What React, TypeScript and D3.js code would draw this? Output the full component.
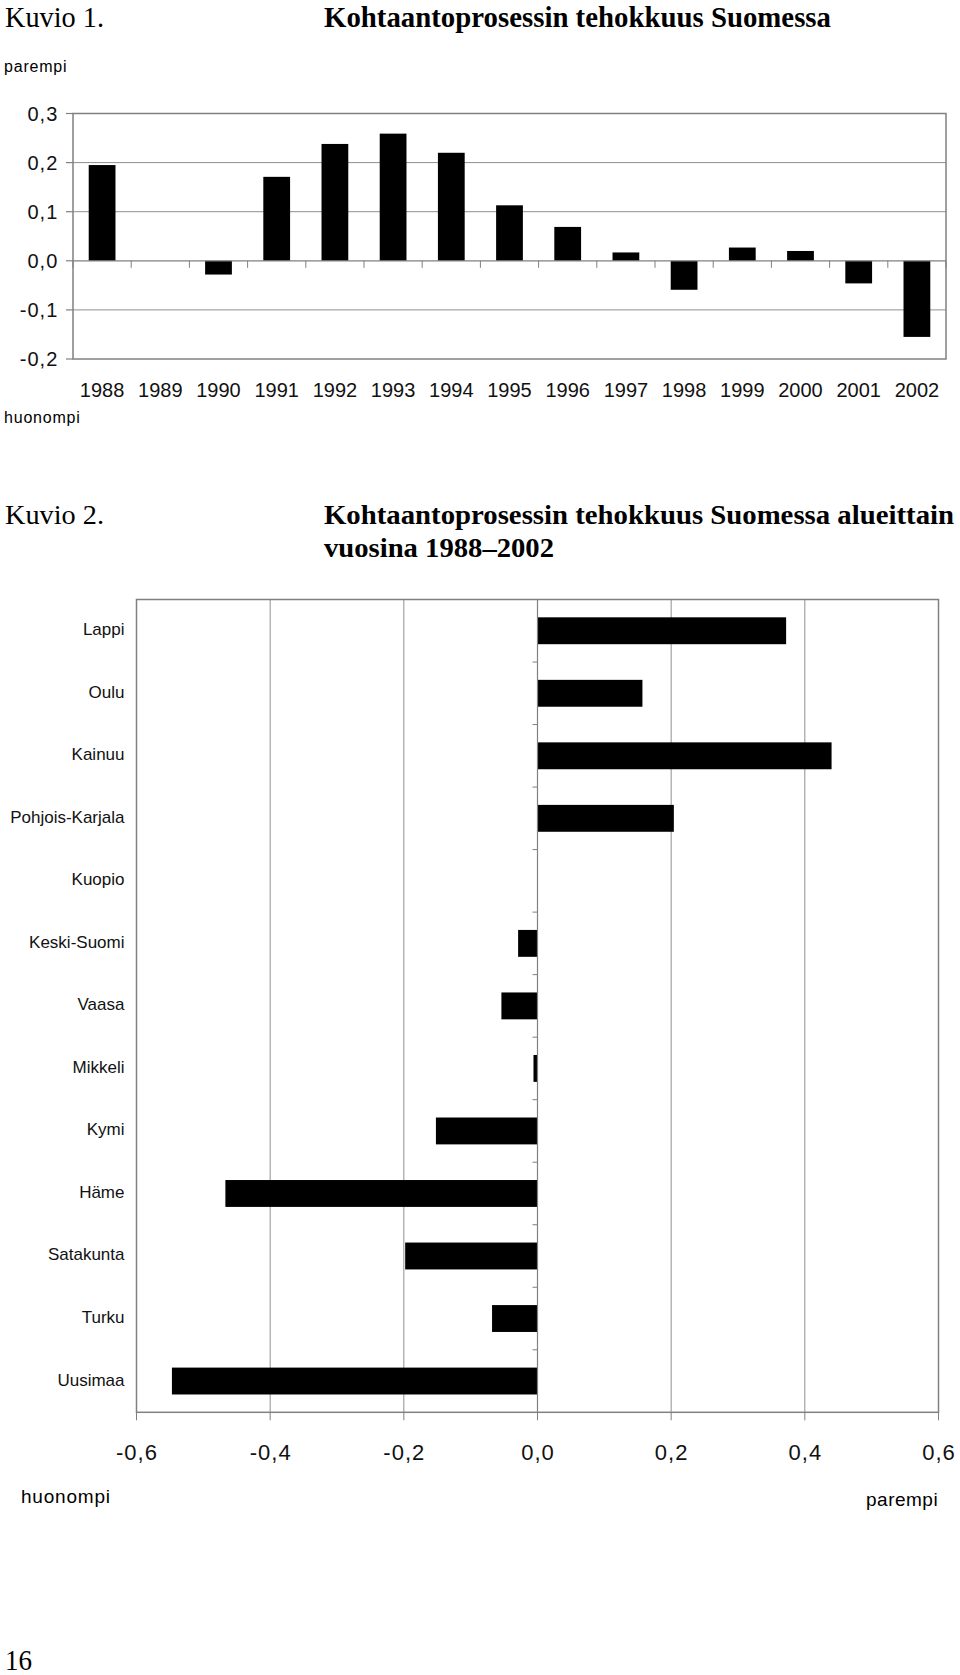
import React from "react";
import * as d3 from "d3";

// ---- Chart 1 data ----
const years = ["1988","1989","1990","1991","1992","1993","1994","1995","1996","1997","1998","1999","2000","2001","2002"];
const yearValues = [0.195, 0, -0.028, 0.171, 0.238, 0.259, 0.220, 0.113, 0.069, 0.017, -0.059, 0.027, 0.020, -0.046, -0.155];
const yTicks1 = [0.3, 0.2, 0.1, 0.0, -0.1, -0.2];

// ---- Chart 2 data ----
const regions = ["Lappi","Oulu","Kainuu","Pohjois-Karjala","Kuopio","Keski-Suomi","Vaasa","Mikkeli","Kymi","Häme","Satakunta","Turku","Uusimaa"];
const regionValues = [0.372, 0.157, 0.440, 0.204, 0, -0.029, -0.054, -0.006, -0.152, -0.467, -0.198, -0.068, -0.547];
const xTicks2 = [-0.6, -0.4, -0.2, 0.0, 0.2, 0.4, 0.6];

const fmt = (v: number) => {
  const s = Math.abs(v).toFixed(1).replace(".", ",");
  return (v < -1e-9 ? "-" : "") + s;
};

const SANS = "'Liberation Sans', Arial, sans-serif";
const SERIF = "'Liberation Serif', 'Times New Roman', serif";
const GRID = "#8f8f8f";
const AXIS = "#808080";

export default function App() {
  // Chart 1 geometry
  const c1 = { left: 73, right: 946, top: 113.5, bottom: 359 };
  const y1 = d3.scaleLinear().domain([-0.2, 0.3]).range([c1.bottom, c1.top]);
  const x1 = d3.scaleBand<string>().domain(years).range([c1.left, c1.right]).paddingInner(0.54).paddingOuter(0.27);
  const step1 = x1.step();
  const y0 = y1(0);

  // Chart 2 geometry
  const c2 = { left: 136.5, right: 938.5, top: 599.5, bottom: 1412.3 };
  const x2 = d3.scaleLinear().domain([-0.6, 0.6]).range([c2.left, c2.right]);
  const yb2 = d3.scaleBand<string>().domain(regions).range([c2.top, c2.bottom]).paddingInner(0.57).paddingOuter(0.285);
  const step2 = yb2.step();
  const x0 = x2(0);

  const boundaries1 = d3.range(years.length + 1).map((i) => c1.left + i * step1);
  const boundaries2 = d3.range(1, regions.length).map((i) => c2.top + i * step2);

  return (
    <svg width={960} height={1675} style={{ position: "absolute", left: 0, top: 0, background: "#fff" }}>
      <rect x={0} y={0} width={960} height={1675} fill="#fff" />
      {/* Titles */}
      <text x={5} y={26.5} fontFamily={SERIF} fontSize={29} textLength={99} lengthAdjust="spacingAndGlyphs">Kuvio 1.</text>
      <text x={324} y={26.5} fontFamily={SERIF} fontSize={29} fontWeight="bold" textLength={507} lengthAdjust="spacingAndGlyphs">Kohtaantoprosessin tehokkuus Suomessa</text>

      {/* Chart 1 */}
      <text x={4} y={72} fontFamily={SANS} fontSize={16} letterSpacing={0.8}>parempi</text>
      <text x={4} y={423} fontFamily={SANS} fontSize={16} letterSpacing={0.8}>huonompi</text>

      {yTicks1.map((t) => (
        <g key={"g1" + t}>
          {t !== 0.3 && t !== -0.2 && t !== 0 && (
            <line x1={c1.left} x2={c1.right} y1={y1(t)} y2={y1(t)} stroke={GRID} strokeWidth={1} />
          )}
          <line x1={c1.left - 7} x2={c1.left} y1={y1(t)} y2={y1(t)} stroke={AXIS} strokeWidth={1.2} />
          <text x={58.3} y={y1(t) + 7} textAnchor="end" fontFamily={SANS} fontSize={20} letterSpacing={1} fill="#111">{fmt(t)}</text>
        </g>
      ))}
      {yearValues.map((v, i) => (
        <rect key={"b1" + i} x={x1(years[i])!} width={x1.bandwidth()}
          y={Math.min(y1(v), y0)} height={Math.abs(y1(v) - y0)} fill="#000" />
      ))}
      {/* zero line with category ticks */}
      <line x1={c1.left} x2={c1.right} y1={y0} y2={y0} stroke={AXIS} strokeWidth={1.2} />
      {boundaries1.map((bx, i) => (
        <line key={"t1" + i} x1={bx} x2={bx} y1={y0} y2={y0 + 7} stroke={AXIS} strokeWidth={1} />
      ))}
      <rect x={c1.left} y={c1.top} width={c1.right - c1.left} height={c1.bottom - c1.top} fill="none" stroke={AXIS} strokeWidth={1.5} />
      {years.map((yr) => (
        <text key={"yl" + yr} x={x1(yr)! + x1.bandwidth() / 2} y={396.5} textAnchor="middle" fontFamily={SANS} fontSize={20} fill="#111">{yr}</text>
      ))}

      {/* Chart 2 titles */}
      <text x={5} y={524} fontFamily={SERIF} fontSize={28} textLength={99} lengthAdjust="spacingAndGlyphs">Kuvio 2.</text>
      <text x={324} y={524} fontFamily={SERIF} fontSize={28} fontWeight="bold" textLength={630} lengthAdjust="spacingAndGlyphs">Kohtaantoprosessin tehokkuus Suomessa alueittain</text>
      <text x={324} y={557} fontFamily={SERIF} fontSize={28} fontWeight="bold" textLength={230} lengthAdjust="spacingAndGlyphs">vuosina 1988–2002</text>

      {/* Chart 2 grid */}
      {xTicks2.map((t) => (
        <g key={"g2" + t}>
          <line x1={x2(t)} x2={x2(t)} y1={c2.top} y2={c2.bottom} stroke={GRID} strokeWidth={1} />
          <line x1={x2(t)} x2={x2(t)} y1={c2.bottom} y2={c2.bottom + 8} stroke={AXIS} strokeWidth={1} />
          <text x={x2(t) + 0.5} y={1460} textAnchor="middle" fontFamily={SANS} fontSize={22} letterSpacing={1} fill="#111">{fmt(t)}</text>
        </g>
      ))}
      {regionValues.map((v, i) => (
        <rect key={"b2" + i} y={yb2(regions[i])!} height={yb2.bandwidth()}
          x={Math.min(x2(v), x0)} width={Math.abs(x2(v) - x0)} fill="#000" />
      ))}
      {/* zero axis with category ticks */}
      <line x1={x0} x2={x0} y1={c2.top} y2={c2.bottom} stroke={AXIS} strokeWidth={1.2} />
      {boundaries2.map((by, i) => (
        <line key={"t2" + i} x1={x0 - 5} x2={x0} y1={by} y2={by} stroke={AXIS} strokeWidth={1} />
      ))}
      <rect x={c2.left} y={c2.top} width={c2.right - c2.left} height={c2.bottom - c2.top} fill="none" stroke={AXIS} strokeWidth={1.5} />
      {regions.map((r) => (
        <text key={"rl" + r} x={124.5} y={yb2(r)! + yb2.bandwidth() / 2 + 4.5} textAnchor="end" fontFamily={SANS} fontSize={17} fill="#111">{r}</text>
      ))}
      <text x={21} y={1503} fontFamily={SANS} fontSize={19} letterSpacing={0.8}>huonompi</text>
      <text x={866} y={1506} fontFamily={SANS} fontSize={19} letterSpacing={0.5}>parempi</text>

      <text x={5} y={1670} fontFamily={SERIF} fontSize={30} textLength={27} lengthAdjust="spacingAndGlyphs">16</text>
    </svg>
  );
}
